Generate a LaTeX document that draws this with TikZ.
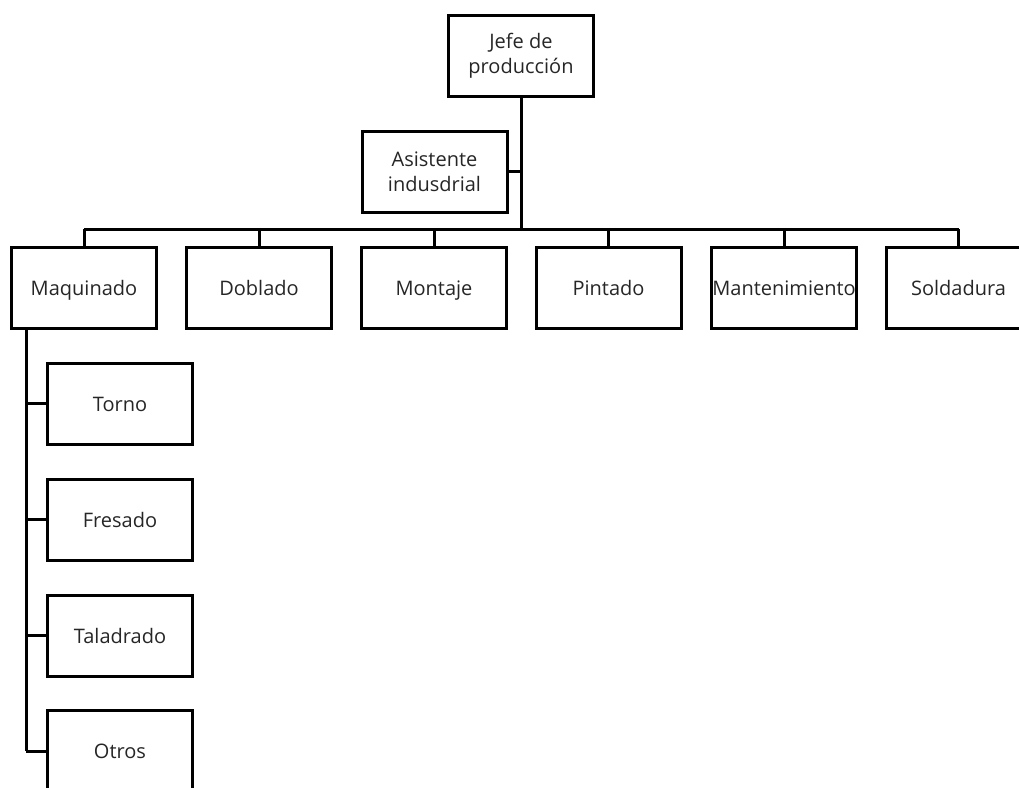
\documentclass[tikz,border=0pt]{standalone}
\usepackage{fontspec}
\setmainfont{Open Sans}
\tikzset{cargo/.style={draw,rectangle,line width=3pt,minimum width=145pt,minimum height=81pt,inner sep=0pt,
                       align=center,font=\fontsize{20}{25}\selectfont,text=black!85},
         una/.style={cargo,text height=17pt,text depth=2pt},
         enlace/.style={line width=3pt,black}
}
\begin{document}
\begin{tikzpicture}[x=1pt,y=-1pt]
  \clip(0,0)rectangle(1019,787);
  \useasboundingbox(0,0)rectangle(1019,787);
  % jefe y asistente
  \node[cargo](jefe) at (521,56){Jefe de\\producción};
  \node[cargo](asis) at (434.5,171.5){Asistente\\indusdrial};
  % areas
  \node[una](maq) at (84,287.5){Maquinado};
  \node[una](dob) at (259,287.5){Doblado};
  \node[una](mon) at (434,287.5){Montaje};
  \node[una](pin) at (608.5,287.5){Pintado};
  \node[una](man) at (784,287.5){Mantenimiento};
  \node[una](sol) at (958.5,287.5){Soldadura};
  % maquinado
  \node[una](tor) at (120,403.5){Torno};
  \node[una](fre) at (120,519.5){Fresado};
  \node[una](tal) at (120,635.5){Taladrado};
  \node[una](otr) at (120,751){Otros};
  \coordinate(bus) at (0,229);
  \coordinate(espina) at (26,328);
  \draw[enlace](jefe.south)--(jefe.south|-bus);
  \draw[enlace](asis.east)--(asis.east-|jefe.south);
  \draw[enlace](maq.north|-bus)--(sol.north|-bus);
  \foreach\a in {maq,dob,mon,pin,man,sol}
     \draw[enlace](\a.north)--(\a.north|-bus);
  \draw[enlace](espina)--(espina|-otr.west);
  \foreach\s in {tor,fre,tal,otr}
     \draw[enlace](\s.west)--(\s.west-|espina);
\end{tikzpicture}
\end{document}
